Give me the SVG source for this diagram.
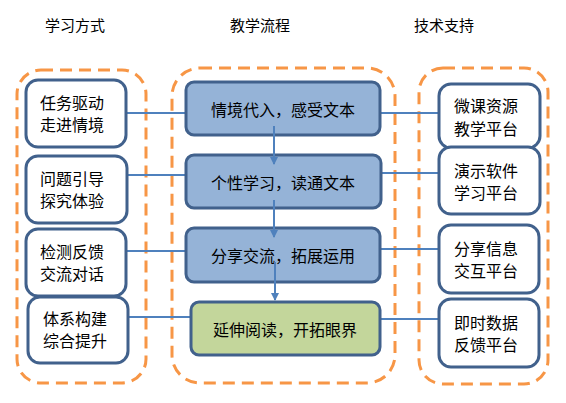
<svg xmlns="http://www.w3.org/2000/svg" width="566" height="403" viewBox="0 0 566 403">
<defs>
<style>
text{font-family:"Noto Sans CJK SC","Liberation Sans",sans-serif;fill:#000;}
.hd{font-size:15px;text-anchor:middle;}
.t{font-size:16px;text-anchor:middle;}
.cont{fill:none;stroke:#f79646;stroke-width:3;stroke-dasharray:12,7;}
.wb{fill:#fff;stroke:#41618c;stroke-width:3;}
.bb{fill:#95b3d7;stroke:#41618c;stroke-width:3;}
.gb{fill:#c3d69b;stroke:#41618c;stroke-width:3;}
.ln{stroke:#4f81bd;stroke-width:2;fill:none;}
</style>
<marker id="ah" markerWidth="8" markerHeight="8" refX="7" refY="4" orient="auto" markerUnits="userSpaceOnUse">
<path d="M0,0 L8,4 L0,8 Z" fill="#4f81bd"/>
</marker>
</defs>
<rect width="566" height="403" fill="#fff"/>
<g id="headers">
<text class="hd" x="75" y="31">学习方式</text>
<text class="hd" x="260" y="31">教学流程</text>
<text class="hd" x="444" y="31">技术支持</text>
</g>
<g id="containers">
<rect class="cont" x="17" y="70" width="129" height="313" rx="24"/>
<rect class="cont" x="172" y="68" width="223" height="315" rx="28"/>
<rect class="cont" x="419" y="68" width="129" height="316" rx="24"/>
</g>
<g id="connectors">
<line class="ln" x1="126" y1="113" x2="186" y2="113"/>
<line class="ln" x1="127" y1="175" x2="186" y2="175"/>
<line class="ln" x1="126" y1="251" x2="186" y2="251"/>
<line class="ln" x1="128" y1="317" x2="191" y2="317"/>
<line class="ln" x1="380" y1="113" x2="439" y2="113"/>
<line class="ln" x1="381" y1="173" x2="439" y2="173"/>
<line class="ln" x1="380" y1="249" x2="439" y2="249"/>
<line class="ln" x1="380" y1="319" x2="439" y2="319"/>
</g>
<g id="left1"><rect class="wb" x="26" y="80" width="100" height="67" rx="12"/><text class="t" x="72" y="109">任务驱动</text><text class="t" x="72" y="131">走进情境</text></g>
<g id="left2"><rect class="wb" x="26" y="156" width="101" height="67" rx="12"/><text class="t" x="72" y="185">问题引导</text><text class="t" x="72" y="207">探究体验</text></g>
<g id="left3"><rect class="wb" x="26" y="229" width="100" height="67" rx="12"/><text class="t" x="72" y="258">检测反馈</text><text class="t" x="72" y="280">交流对话</text></g>
<g id="left4"><rect class="wb" x="28" y="297" width="100" height="66" rx="12"/><text class="t" x="75" y="325">体系构建</text><text class="t" x="75" y="347">综合提升</text></g>
<g id="mid1"><rect class="bb" x="186" y="82" width="194" height="53" rx="8"/><text class="t" x="283" y="116">情境代入，感受文本</text></g>
<g id="mid2"><rect class="bb" x="186" y="155" width="195" height="53" rx="8"/><text class="t" x="283" y="189">个性学习，读通文本</text></g>
<g id="mid3"><rect class="bb" x="186" y="228" width="194" height="54" rx="8"/><text class="t" x="283" y="262">分享交流，拓展运用</text></g>
<g id="mid4"><rect class="gb" x="191" y="302" width="189" height="53" rx="8"/><text class="t" x="285" y="336">延伸阅读，开拓眼界</text></g>
<g id="right1"><rect class="wb" x="439" y="84" width="101" height="64" rx="12"/><text class="t" x="486" y="112">微课资源</text><text class="t" x="486" y="135">教学平台</text></g>
<g id="right2"><rect class="wb" x="439" y="147" width="101" height="67" rx="12"/><text class="t" x="486" y="177">演示软件</text><text class="t" x="486" y="199">学习平台</text></g>
<g id="right3"><rect class="wb" x="439" y="225" width="100" height="68" rx="12"/><text class="t" x="486" y="255">分享信息</text><text class="t" x="486" y="277">交互平台</text></g>
<g id="right4"><rect class="wb" x="439" y="299" width="100" height="68" rx="12"/><text class="t" x="486" y="329">即时数据</text><text class="t" x="486" y="351">反馈平台</text></g>
<g id="arrows">
<line class="ln" x1="274" y1="126" x2="274" y2="164" marker-end="url(#ah)"/>
<line class="ln" x1="274" y1="200" x2="274" y2="237" marker-end="url(#ah)"/>
<line class="ln" x1="275" y1="262" x2="275" y2="300" marker-end="url(#ah)"/>
</g>
</svg>
